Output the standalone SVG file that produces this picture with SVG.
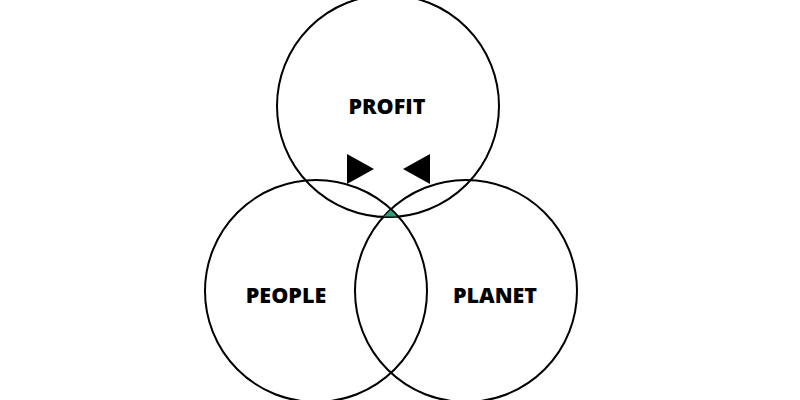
<svg xmlns="http://www.w3.org/2000/svg" width="800" height="400" viewBox="0 0 800 400">
<style>
.c{fill:none;stroke:#000;stroke-width:2}
.t{font-family:"Open Sans","Liberation Sans",sans-serif;font-weight:800;font-size:21.5px;fill:#000;text-anchor:middle}
.a{fill:#000}
</style>
<rect width="800" height="400" fill="#fff"/>
<g id="profit"><circle class="c" cx="388" cy="106" r="111"/><text class="t" x="387" y="114">PROFIT</text></g>
<g id="people"><circle class="c" cx="316" cy="291" r="111"/><text class="t" x="286" y="303">PEOPLE</text></g>
<g id="planet"><circle class="c" cx="466" cy="291" r="111"/><text class="t" x="495" y="303">PLANET</text></g>
<polygon points="384,216.5 397,216.5 390.5,210" fill="#2e9e77"/>
<g id="connectors">
<polygon class="a" points="347,154 374,169 347,184"/>
<polygon class="a" points="430,154 403,169 430,184"/>
</g>
</svg>
